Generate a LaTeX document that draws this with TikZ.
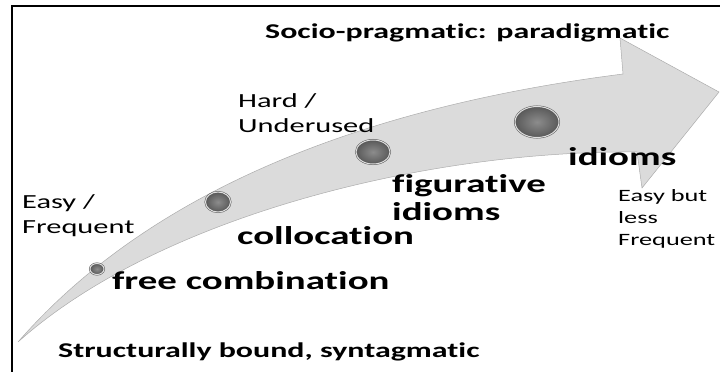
\documentclass[tikz,border=0pt]{standalone}
\usepackage{fontspec}
\setmainfont{Carlito}[FakeStretch=1.52,Ligatures=NoCommon]
\usetikzlibrary{shapes.geometric}

\begin{document}
\begin{tikzpicture}[x=1pt,y=-1pt,
  band/.style={fill=gray!28,draw=gray!65,line width=0.5pt},
  dot/.style={ellipse,inner sep=0pt,draw=black!65,line width=0.5pt,double=gray!25,double distance=1pt,inner color=gray!90,outer color=gray!70!black},
  hint/.style={anchor=base west,inner sep=0pt,align=left,font=\fontsize{20}{25}\selectfont},
  term/.style={anchor=base west,inner sep=0pt,align=left,font=\bfseries\fontsize{25.6}{28}\selectfont},
  axis/.style={anchor=base west,inner sep=0pt,font=\bfseries\fontsize{21}{25}\selectfont}]
\useasboundingbox (0,0) rectangle (720,372);
% frame
\draw[line width=2pt] (12,372) -- (12,6) -- (720,6);
% the curved arrow
\filldraw[band] (18,342) .. controls (120,225) and (300,115) .. (623,74) -- (620,38) -- (719,92)
  -- (642,188) -- (637,152) .. controls (430,150) and (160,215) .. cycle;
% dots on the arrow
\node[dot,minimum width=14pt,minimum height=11pt] (d1) at (97,269) {};
\node[dot,minimum width=25pt,minimum height=20pt] (d2) at (218,202) {};
\node[dot,minimum width=34pt,minimum height=24pt] (d3) at (373,152) {};
\node[dot,minimum width=44pt,minimum height=31pt] (d4) at (537,122) {};
% labels (base = last line)
\node[axis] (para) at (265,38) {Socio-pragmatic: paradigmatic};
\node[axis] (synt) at (58,357) {Structurally bound, syntagmatic};
\node[hint] (easy) at (22,233) {Easy /\\Frequent};
\node[hint] (hard) at (238,132) {Hard /\\Underused};
\node[hint,font=\fontsize{17.3}{22}\selectfont] (less) at (618,245) {Easy but\\less\\Frequent};
\node[term] (free) at (112,289) {free combination};
\node[term] (coll) at (237,244) {collocation};
\node[term] (figu) at (392,220) {figurative\\idioms};
\node[term] (idio) at (568,165) {idioms};
\end{tikzpicture}
\end{document}
